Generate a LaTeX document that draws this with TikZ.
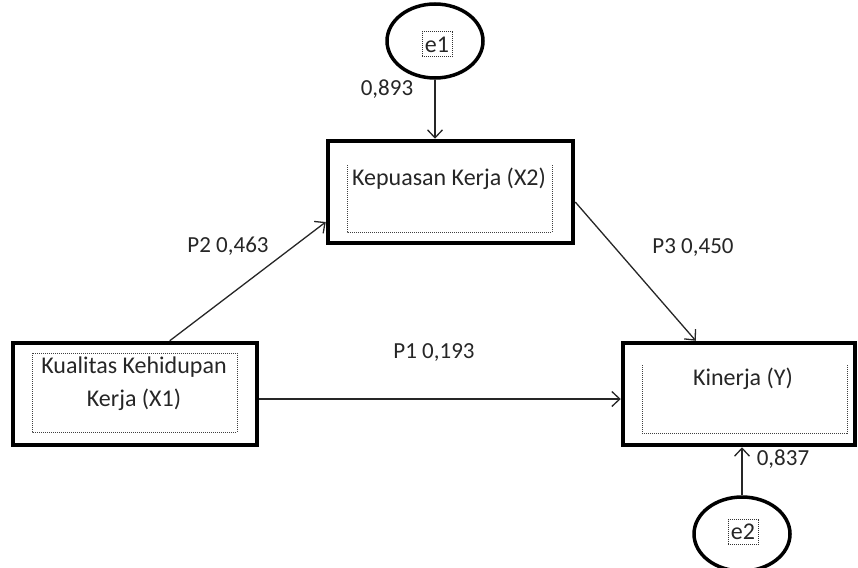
\documentclass[tikz,border=0pt]{standalone}
\usepackage{fontspec}
\setmainfont{Carlito}
\usetikzlibrary{shapes.geometric,arrows.meta}
\begin{document}
\begin{tikzpicture}[x=1pt,y=-1pt,
  box/.style={draw=black,line width=4.5pt,rectangle,inner sep=0pt},
  latent/.style={draw=black,line width=3.5pt,ellipse,inner sep=0pt,minimum width=96pt,minimum height=74pt},
  txt/.style={font=\fontsize{24}{33}\selectfont,text=black!85,inner sep=0pt,align=center},
  lbl/.style={font=\fontsize{23}{28}\selectfont,text=black!85,inner sep=0pt},
  ebox/.style={draw=black!80,densely dotted,line width=1pt,font=\fontsize{24}{28}\selectfont,text=black!85,inner sep=2pt,minimum width=30pt,minimum height=25pt},
  dotbox/.style={draw=black!75,densely dotted,line width=1pt},
  arr/.style={draw=black!85,line width=1.3pt,-{Straight Barb[length=8pt,width=15pt,line width=1.3pt]}}]
\useasboundingbox (0,0) rectangle (858,567);

% boxes
\node[box,minimum width=245pt,minimum height=102pt] (X2) at (450.5,192) {};
\node[box,minimum width=244pt,minimum height=102pt] (X1) at (135,394) {};
\node[box,minimum width=232pt,minimum height=102pt] (Y) at (739,394) {};

% inner dotted frames
\draw[dotbox] (347,165) -- (347,232) -- (552,232) -- (552,165);
\draw[dotbox] (32,353) rectangle (237,432);
\draw[dotbox] (642,365) -- (642,433) -- (847,433) -- (847,365);

% box texts
\node[txt] (X2t) at (449,179) {Kepuasan Kerja (X2)};
\node[txt] (X1t) at (134,384) {Kualitas Kehidupan\\Kerja (X1)};
\node[txt] (Yt) at (743,379) {Kinerja (Y)};

% error terms
\node[latent] (e1) at (435,41) {};
\node[ebox] (e1t) at (437,44.5) {e1};
\node[latent] (e2) at (742,534) {};
\node[ebox] (e2t) at (743,532) {e2};

% connectors
\draw[arr] (e1.south) -- (e1.south |- X2.north);
\draw[arr] (e2.north) -- (e2.north |- Y.south);
\draw[arr] ([xshift=159pt]X1.north west) -- ([yshift=-30pt]X2.west);
\draw[arr] ([yshift=-10pt]X2.east) -- ([xshift=75pt]Y.north west);
\draw[arr] ([yshift=-5pt]X1.east) -- ([yshift=-5pt]Y.west);

% labels
\node[lbl] (l893) at (387,89) {0,893};
\node[lbl] (lP2) at (228,246) {P2 0,463};
\node[lbl] (lP3) at (693,248) {P3 0,450};
\node[lbl] (lP1) at (434,353) {P1 0,193};
\node[lbl] (l837) at (783,459) {0,837};
\end{tikzpicture}
\end{document}
